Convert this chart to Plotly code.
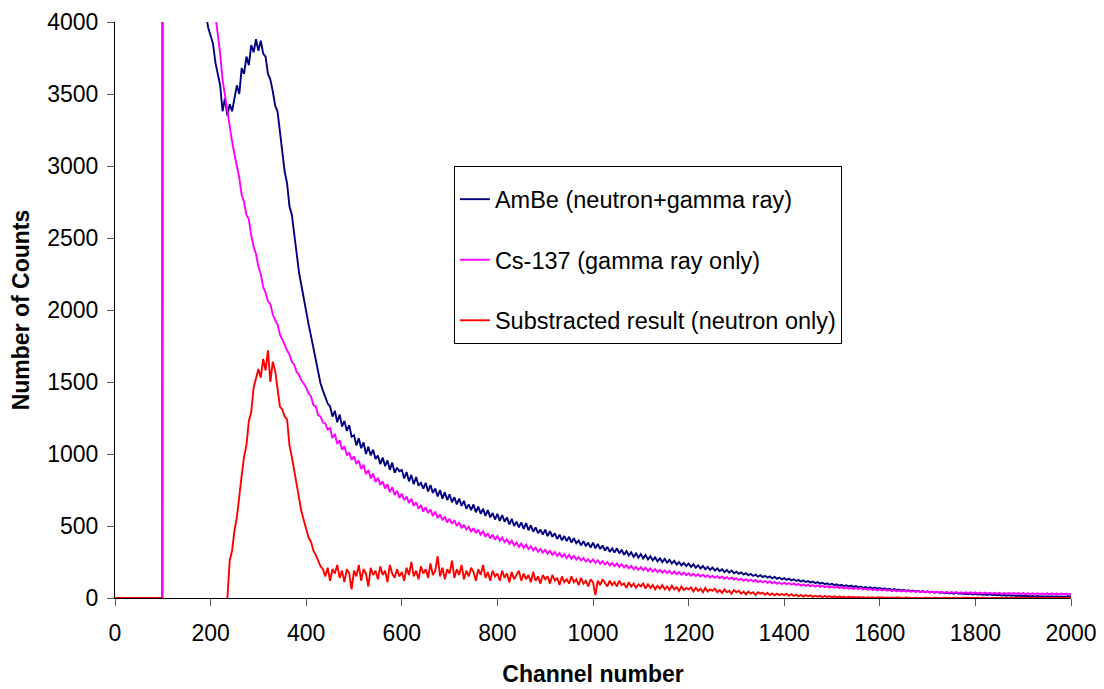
import plotly.graph_objects as go

# Channel numbers (x): 0, 99, then every 5 channels from 100 to 2000
CHANNELS = [0, 99] + list(range(100, 2001, 5))

AMBE = [0, 0,
    9000, 8600, 8200, 7850, 7500, 7150, 6800, 6500, 6200, 5950,
    5700, 5450, 5200, 5000, 4800, 4600, 4400, 4220, 4060, 3960,
    3900, 3850, 3720, 3640, 3560, 3380, 3470, 3350, 3430, 3380,
    3480, 3560, 3500, 3680, 3640, 3760, 3700, 3840, 3790, 3880,
    3800, 3870, 3780, 3760, 3640, 3600, 3520, 3420, 3380, 3240,
    3100, 2960, 2880, 2720, 2660, 2520, 2400, 2260, 2170, 2070,
    2000, 1900, 1820, 1740, 1660, 1580, 1490, 1440, 1400, 1350,
    1330, 1260, 1300, 1220, 1275, 1190, 1230, 1160, 1200, 1120,
    1130, 1060, 1110, 1040, 1080, 1000, 1050, 990, 1030, 965,
    990, 930, 975, 915, 955, 890, 940, 870, 905, 880,
    890, 830, 875, 810, 855, 790, 840, 780, 800, 760,
    800, 740, 785, 730, 760, 705, 750, 690, 735, 680,
    720, 665, 700, 650, 690, 640, 675, 620, 650, 610,
    650, 595, 635, 585, 620, 570, 610, 560, 590, 545,
    585, 535, 575, 530, 560, 510, 550, 500, 530, 490,
    525, 480, 520, 470, 505, 460, 490, 450, 475, 440,
    475, 430, 465, 425, 450, 410, 440, 400, 430, 395,
    425, 385, 415, 380, 400, 365, 395, 360, 385, 350,
    385, 345, 375, 340, 365, 330, 355, 320, 345, 315,
    345, 310, 335, 300, 325, 295, 318, 285, 310, 280,
    305, 275, 298, 268, 290, 262, 282, 255, 275, 250,
    272, 245, 265, 240, 258, 232, 250, 226, 244, 222,
    240, 216, 234, 210, 228, 205, 222, 200, 216, 195,
    212, 190, 206, 186, 200, 180, 195, 176, 190, 172,
    182, 168, 178, 163, 172, 158, 167, 153, 162, 148,
    158, 145, 154, 141, 150, 137, 146, 133, 142, 129,
    138, 126, 134, 122, 130, 118, 126, 114, 122, 111,
    118, 107, 114, 103, 110, 100, 106, 96, 102, 92,
    99, 89, 95, 86, 92, 83, 89, 80, 86, 77,
    83, 74, 80, 71, 77, 69, 74, 66, 72, 64,
    69, 61, 67, 59, 64, 56, 62, 54, 59, 51,
    57, 49, 54, 47, 52, 45, 50, 43, 48, 41,
    46, 39, 44, 37, 42, 35, 40, 33, 38, 32,
    36, 30, 35, 29, 33, 27, 31, 26, 30, 25,
    29, 24, 27, 22, 26, 21, 25, 20, 23, 19,
    22, 17, 21, 16, 20, 15, 18, 14, 17, 13,
    16, 12, 15, 11, 14, 10, 14, 10, 13, 9,
    13, 9, 12, 8, 12, 8, 11, 8, 11, 8,
    10]

CS137 = [0, 0,
    14000, 13000, 12000, 11200, 10500, 9800, 9200, 8600, 8000, 7500,
    7000, 6600, 6200, 5850, 5500, 5200, 4900, 4650, 4450, 4300,
    4250, 4180, 4050, 3930, 3780, 3600, 3490, 3360, 3250, 3170,
    3080, 3000, 2920, 2800, 2750, 2660, 2630, 2520, 2440, 2390,
    2300, 2250, 2160, 2120, 2060, 2040, 1970, 1930, 1900, 1830,
    1800, 1760, 1720, 1690, 1640, 1620, 1570, 1550, 1510, 1490,
    1460, 1420, 1400, 1340, 1330, 1270, 1260, 1220, 1210, 1170,
    1180, 1110, 1140, 1070, 1095, 1030, 1055, 990, 1010, 960,
    985, 930, 955, 895, 925, 860, 890, 830, 865, 805,
    835, 785, 810, 760, 790, 735, 770, 715, 745, 695,
    725, 680, 705, 660, 690, 640, 665, 620, 645, 600,
    630, 590, 615, 570, 600, 555, 580, 540, 565, 525,
    550, 515, 540, 500, 525, 485, 510, 475, 495, 460,
    485, 450, 475, 440, 462, 425, 450, 415, 440, 405,
    430, 398, 420, 388, 408, 375, 398, 365, 385, 355,
    378, 348, 370, 340, 360, 330, 350, 322, 340, 315,
    335, 308, 328, 300, 320, 292, 312, 285, 305, 278,
    300, 272, 292, 266, 285, 260, 278, 254, 270, 248,
    268, 243, 262, 238, 255, 232, 250, 226, 243, 220,
    240, 216, 235, 212, 228, 206, 222, 200, 216, 196,
    214, 193, 210, 188, 205, 184, 200, 180, 195, 176,
    192, 172, 188, 168, 184, 165, 180, 162, 176, 158,
    172, 155, 168, 152, 165, 149, 162, 146, 158, 143,
    155, 140, 152, 137, 149, 134, 146, 131, 143, 128,
    138, 124, 134, 120, 131, 117, 128, 114, 125, 111,
    121, 108, 118, 105, 115, 102, 112, 99, 109, 96,
    107, 95, 104, 92, 101, 89, 98, 86, 95, 84,
    93, 82, 90, 79, 88, 77, 85, 75, 83, 72,
    81, 71, 79, 69, 77, 67, 74, 64, 72, 62,
    70, 61, 68, 59, 66, 57, 64, 55, 62, 53,
    61, 52, 59, 50, 57, 48, 55, 47, 53, 45,
    52, 44, 51, 43, 49, 42, 48, 40, 47, 39,
    46, 39, 45, 38, 44, 37, 43, 36, 42, 35,
    42, 35, 41, 34, 40, 33, 40, 33, 39, 32,
    39, 32, 38, 31, 38, 31, 37, 30, 36, 30,
    36, 29, 35, 29, 35, 28, 34, 28, 34, 27,
    34, 27, 33, 27, 33, 26, 33, 26, 32, 26,
    32, 25, 32, 25, 31, 25, 31, 25, 31, 24,
    28]

NEUTRON = [0, 0,
    -2000, -2000, -2000, -2000, -2000, -2000, -2000, -2000, -2000, -2000,
    -2000, -2000, -2000, -2000, -2000, -2000, -2000, -2000, -2000, -2000,
    -400, -350, -300, -280, -220, -200, -150, -10, 260, 330,
    470, 560, 720, 850, 980, 1060, 1230, 1290, 1460, 1520,
    1590, 1530, 1660, 1580, 1720, 1500, 1640, 1580, 1450, 1330,
    1310, 1260, 1240, 1060, 980, 880, 800, 700, 600, 540,
    470, 420, 390, 330, 300, 260, 220, 200, 150, 210,
    120, 200, 170, 230, 140, 190, 110, 200, 170, 60,
    190, 150, 230, 120, 200, 170, 80, 210, 160, 190,
    130, 220, 160, 190, 110, 230, 170, 140, 200, 150,
    180, 120, 210, 160, 250, 150, 190, 130, 220, 170,
    200, 140, 240, 160, 190, 290, 150, 210, 130, 200,
    170, 260, 140, 200, 160, 230, 130, 190, 150, 210,
    180, 120, 200, 160, 230, 140, 180, 120, 190, 150,
    170, 120, 190, 140, 170, 110, 180, 130, 160, 190,
    120, 170, 130, 160, 110, 180, 120, 150, 100, 160,
    130, 150, 100, 160, 120, 140, 90, 150, 110, 130,
    100, 150, 110, 130, 90, 140, 100, 120, 80, 130,
    110, 20, 120, 90, 130, 100, 80, 120, 90, 110,
    80, 120, 90, 100, 70, 110, 80, 100, 70, 95,
    80, 100, 65, 95, 70, 90, 60, 85, 65, 90,
    60, 80, 55, 85, 60, 75, 50, 80, 55, 70,
    60, 75, 45, 70, 50, 65, 40, 70, 45, 60,
    50, 65, 40, 55, 35, 60, 40, 50, 30, 55,
    40, 50, 30, 45, 25, 45, 30, 40, 20, 40,
    30, 38, 22, 35, 20, 32, 18, 30, 20, 28,
    20, 30, 15, 26, 14, 24, 12, 22, 10, 20,
    12, 18, 8, 16, 9, 15, 6, 14, 7, 12,
    6, 12, 4, 10, 5, 9, 3, 8, 4, 7,
    2, 7, 3, 6, 1, 6, 2, 5, 1, 5,
    2, 5, 0, 4, 1, 4, 0, 3, 1, 3,
    0, 3, 1, 3, -1, 2, 0, 3, -1, 2,
    0, 2, -1, 2, 0, 3, -1, 2, 0, 2,
    -1, 2, 0, 3, -1, 2, 1, 2, -1, 1,
    0, 2, -1, 2, 0, 3, -1, 1, 0, 2,
    -1, 2, 0, 1, -1, 2, 0, 2, -1, 1,
    0, 2, -1, 1, 0, 2, -1, 1, 0, 2,
    -1, 1, 0, 2, -1, 1, 0, 2, -1, 1,
    0]

NAMES = ["AmBe (neutron+gamma ray)", "Cs-137 (gamma ray only)",
         "Substracted result (neutron only)"]
COLORS = ["#000080", "#FF00FF", "#FF0000"]
X_TICKS = list(range(0, 2001, 200))
Y_TICKS = list(range(0, 4001, 500))

FONT = "Liberation Sans, Arial, sans-serif"
FS = 23

fig = go.Figure()
for i, (name, vals, col) in enumerate(zip(NAMES, [AMBE, CS137, NEUTRON], COLORS)):
    fig.add_trace(go.Scatter(
        x=CHANNELS, y=vals, mode="lines", name=name,
        legendgroup=f"g{i}",
        line=dict(color=col, width=1.9),
    ))

fig.update_layout(
    width=1096, height=681,
    margin=dict(l=107, r=33, t=14, b=91),
    paper_bgcolor="white", plot_bgcolor="white",
    font=dict(family=FONT, size=FS, color="black"),
    showlegend=True,
    legend=dict(
        x=0.3545, y=0.75, xanchor="left", yanchor="top",
        bordercolor="black", borderwidth=1, bgcolor="white",
        font=dict(size=23.5, family=FONT, color="black"),
        tracegroupgap=27,
        title=dict(text=" ", font=dict(size=8)),
    ),
)
fig.update_xaxes(
    range=[0, 2000], tickvals=X_TICKS, ticks="outside", ticklen=7,
    tickcolor="#555", showline=True, linecolor="black", linewidth=1,
    showgrid=False, zeroline=False, layer="below traces", automargin=False,
    tickfont=dict(size=FS), ticklabelstandoff=7,
    title=dict(text="<b>Channel number</b>", font=dict(size=FS), standoff=21),
)
fig.update_yaxes(
    range=[0, 4000], tickvals=Y_TICKS, ticks="outside", ticklen=7,
    tickcolor="#555", showline=True, linecolor="black", linewidth=1,
    showgrid=False, zeroline=False, layer="below traces", automargin=False,
    tickfont=dict(size=FS), ticklabelstandoff=4,
    title=dict(text="<b>Number of Counts</b>", font=dict(size=FS), standoff=11),
)

fig.write_html("out.html")
